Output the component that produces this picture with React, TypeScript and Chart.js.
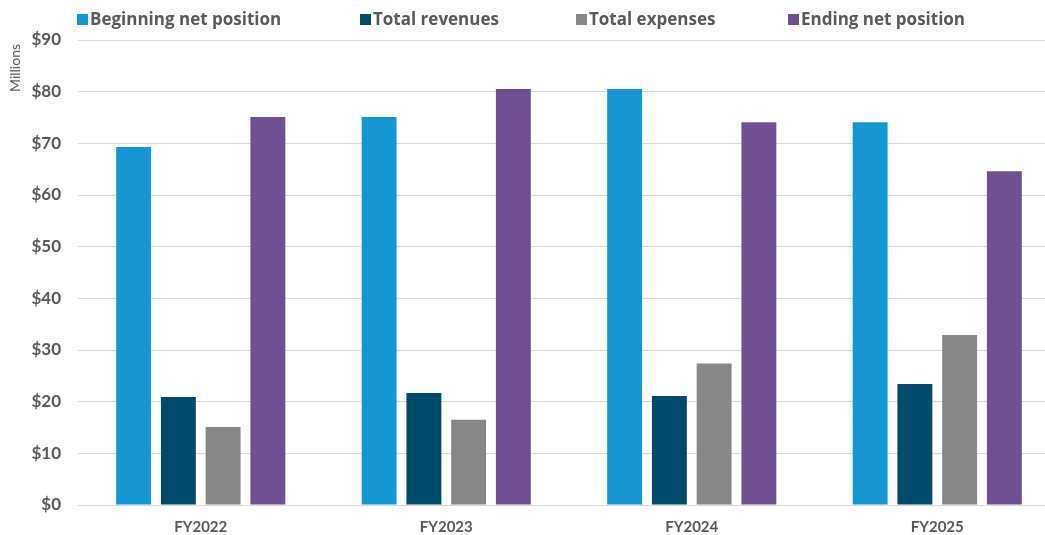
import React, { useEffect, useRef } from "react";
import { Chart, registerables } from "chart.js";

Chart.register(...registerables);

const categories = ["FY2022", "FY2023", "FY2024", "FY2025"];
const seriesNames = ["Beginning net position", "Total revenues", "Total expenses", "Ending net position"];
const beginning = [69.3, 75.1, 80.5, 74.1];
const revenues = [20.9, 21.7, 21.1, 23.4];
const expenses = [15.1, 16.5, 27.4, 32.9];
const ending = [75.1, 80.5, 74.1, 64.6];
const colors = ["#1696D2", "#004A6B", "#878787", "#6F5090"];
const yTicks = [0, 10, 20, 30, 40, 50, 60, 70, 80, 90];

const FONT = "Lato, 'Open Sans', sans-serif";
const LEGEND_FONT = "'Open Sans', Lato, sans-serif";
const TEXT = "#595959";

export default function App() {
  const ref = useRef<HTMLCanvasElement | null>(null);

  useEffect(() => {
    const prevMargin = document.body.style.margin;
    document.body.style.margin = "0";
    document.body.style.overflow = "hidden";
    const ctx = ref.current!;
    const values = [beginning, revenues, expenses, ending];
    const chart = new Chart(ctx, {
      type: "bar",
      data: {
        labels: categories,
        datasets: seriesNames.map((name, i) => ({
          label: name,
          data: values[i],
          backgroundColor: colors[i],
          borderWidth: 0,
          barPercentage: 0.78,
          categoryPercentage: 0.729,
        })),
      },
      options: {
        animation: false,
        responsive: false,
        maintainAspectRatio: false,
        layout: { padding: { top: 40, right: 2, left: 0, bottom: 0 } },
        plugins: {
          legend: { display: false },
          tooltip: { enabled: false },
        },
        scales: {
          x: {
            grid: { display: false, drawTicks: false },
            border: { color: "#D9D9D9", width: 1 },
            ticks: {
              color: TEXT,
              font: { family: FONT, size: 15, weight: "bold" },
              padding: 13,
            },
            afterFit: (s: any) => {
              s.height = 30;
            },
          },
          y: {
            min: 0,
            max: 90,
            afterBuildTicks: (s: any) => {
              s.ticks = yTicks.map((v) => ({ value: v }));
            },
            grid: { color: "#D9D9D9", lineWidth: 1, drawTicks: false },
            border: { display: false },
            ticks: {
              color: TEXT,
              font: { family: FONT, size: 17, weight: "bold" },
              padding: 17,
              callback: (v: any) => "$" + v,
            },
            afterFit: (s: any) => {
              s.width = 78;
            },
          },
        },
      },
    });
    return () => {
      chart.destroy();
      document.body.style.margin = prevMargin;
    };
  }, []);

  const legendPos = [77, 360, 576, 788];

  return (
    <div style={{ position: "fixed", left: 0, top: 0, width: 1045, height: 535, overflow: "hidden", background: "#fff" }}>
      <canvas ref={ref} width={1062} height={535} style={{ position: "absolute", left: 0, top: 0 }} />
      <div
        style={{
          position: "absolute",
          left: 15,
          top: 68,
          transform: "translate(-50%, -50%) rotate(-90deg)",
          fontFamily: FONT,
          fontSize: 14,
          color: TEXT,
          whiteSpace: "nowrap",
          lineHeight: "16px",
        }}
      >
        Millions
      </div>
      {seriesNames.map((name, i) => (
        <div
          key={name}
          style={{
            position: "absolute",
            left: legendPos[i],
            top: 9,
            display: "flex",
            alignItems: "center",
            fontFamily: LEGEND_FONT,
            fontWeight: "bold",
            fontSize: 17,
            color: TEXT,
            whiteSpace: "nowrap",
            lineHeight: "20px",
          }}
        >
          <span style={{ display: "inline-block", width: 11, height: 11, background: colors[i], marginRight: 2 }} />
          <span>{name}</span>
        </div>
      ))}
    </div>
  );
}
